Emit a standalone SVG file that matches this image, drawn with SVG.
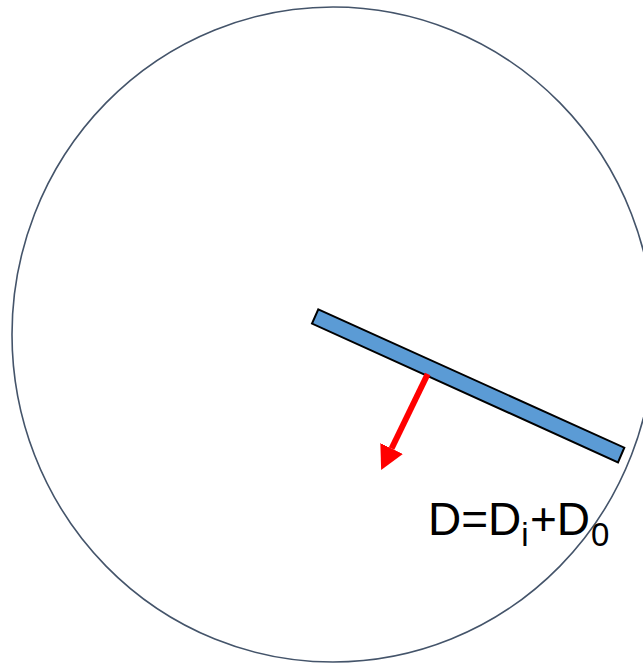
<svg xmlns="http://www.w3.org/2000/svg" width="643" height="663" viewBox="0 0 643 663">
<style>
.outline{fill:none;stroke:#44546A;stroke-width:1.6}
.bar{fill:#5B9BD5;stroke:#000;stroke-width:2;stroke-linejoin:miter}
.force{stroke:#FF0000;stroke-width:6;fill:none}
.label{font-family:"Liberation Sans",Arial,sans-serif;font-size:46px;fill:#000}
.sub{font-size:33px}
</style>
<defs>
<marker id="head" viewBox="0 0 24 25" markerWidth="24" markerHeight="25" refX="0" refY="12.5" orient="auto" markerUnits="userSpaceOnUse">
<path d="M0,0 L24,12.5 L0,25 z" fill="#FF0000"/>
</marker>
</defs>
<rect width="643" height="663" fill="#FFFFFF"/>
<g id="circle">
<ellipse class="outline" cx="333" cy="334.5" rx="321" ry="327.5"/>
</g>
<g id="bar">
<polygon class="bar" points="318.3,309.3 624.3,447.7 618,462.3 312,323.6"/>
</g>
<g id="connectors">
<line class="force" x1="427.7" y1="374" x2="391.6" y2="448.5" marker-end="url(#head)"/>
</g>
<g id="label">
<text class="label" x="428" y="535">D=D<tspan class="sub" dy="11">i</tspan><tspan x="530" dy="-11">+D</tspan><tspan class="sub" x="591" dy="11">0</tspan></text>
</g>
</svg>
